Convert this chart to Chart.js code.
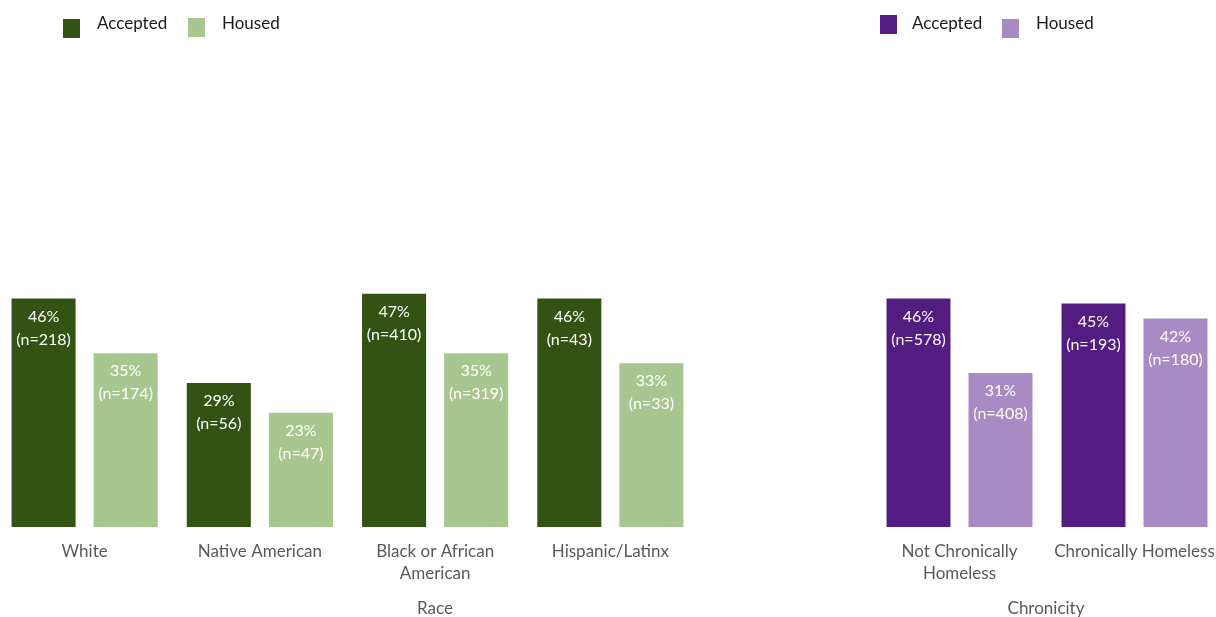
<!DOCTYPE html>
<html>
<head>
<meta charset="utf-8">
<script src="https://cdn.jsdelivr.net/npm/chart.js@4"></script>
<style>
  html, body { margin: 0; padding: 0; background: #fff; }
  body { width: 1216px; height: 617px; position: relative; overflow: hidden; font-family: Lato, sans-serif; }
  .panel { position: absolute; top: 0; height: 617px; }
  .legend { position: absolute; top: 0; height: 45px; font-size: 17px; color: #1a1a1a; }
  .legend span.box { position: absolute; width: 17px; height: 19px; }
  .legend span.txt { position: absolute; top: 12px; }
  .axis-title { position: absolute; top: 597px; font-size: 17px; color: #595959; transform: translateX(-50%); white-space: nowrap; }
</style>
</head>
<body>

<div class="panel" style="left:-3px;width:701px;"><canvas id="raceChart"></canvas></div>
<div class="panel" style="left:872px;width:350px;"><canvas id="chronChart"></canvas></div>

<div class="legend" style="left:0;width:320px;">
  <span class="box" style="left:63px;top:19px;background:#325314;"></span>
  <span class="txt" style="left:97px;">Accepted</span>
  <span class="box" style="left:188px;top:18px;background:#a8c68f;"></span>
  <span class="txt" style="left:222px;">Housed</span>
</div>
<div class="legend" style="left:860px;width:300px;">
  <span class="box" style="left:20px;top:15px;background:#531c80;"></span>
  <span class="txt" style="left:52px;">Accepted</span>
  <span class="box" style="left:142px;top:19px;background:#a98bc3;"></span>
  <span class="txt" style="left:176px;">Housed</span>
</div>

<div class="axis-title" style="left:435px;">Race</div>
<div class="axis-title" style="left:1046px;">Chronicity</div>

<script>
// Race breakdown
const raceLabels = ['White', 'Native American', ['Black or African', 'American'], 'Hispanic/Latinx'];
const raceAcceptedPct = [46, 29, 47, 46];
const raceAcceptedN = [218, 56, 410, 43];
const raceHousedPct = [35, 23, 35, 33];
const raceHousedN = [174, 47, 319, 33];

// Chronicity breakdown
const chronLabels = [['Not Chronically', 'Homeless'], 'Chronically Homeless'];
const chronAcceptedPct = [46, 45];
const chronAcceptedN = [578, 193];
const chronHousedPct = [31, 42];
const chronHousedN = [408, 180];

// writes "46%" / "(n=218)" inside the top of each bar
const barLabels = {
    id: 'barLabels',
    afterDatasetsDraw(chart) {
        const ctx = chart.ctx;
        ctx.save();
        ctx.fillStyle = '#ffffff';
        ctx.font = '16px Lato, sans-serif';
        ctx.textAlign = 'center';
        ctx.textBaseline = 'middle';
        chart.data.datasets.forEach(function(ds, di) {
            chart.getDatasetMeta(di).data.forEach(function(bar, i) {
                ctx.fillText(ds.data[i] + '%', bar.x, bar.y + 18);
                ctx.fillText('(n=' + ds.counts[i] + ')', bar.x, bar.y + 41);
            });
        });
        ctx.restore();
    }
};

function makeChart(id, labels, accPct, accN, houPct, houN, dark, light) {
    return new Chart(document.getElementById(id), {
        type: 'bar',
        data: {
            labels: labels,
            datasets: [
                { label: 'Accepted', data: accPct, counts: accN, backgroundColor: dark },
                { label: 'Housed', data: houPct, counts: houN, backgroundColor: light }
            ]
        },
        options: {
            responsive: true,
            maintainAspectRatio: false,
            animation: false,
            categoryPercentage: 0.937,
            barPercentage: 0.78,
            layout: { padding: { top: 30.5, left: 0, right: 0, bottom: 0 } },
            plugins: {
                legend: { display: false },
                tooltip: { enabled: false }
            },
            scales: {
                y: {
                    display: false,
                    min: 0,
                    max: 100
                },
                x: {
                    grid: { display: false, drawTicks: false },
                    border: { display: false },
                    ticks: {
                        color: '#595959',
                        padding: 13,
                        maxRotation: 0,
                        autoSkip: false,
                        font: { family: 'Lato, sans-serif', size: 17, lineHeight: 1.3 }
                    },
                    afterFit: function(scale) {
                        // fixed band for the labels, and no side padding so categories span the full width
                        scale.height = 90;
                        scale.paddingLeft = 0;
                        scale.paddingRight = 0;
                    }
                }
            }
        },
        plugins: [barLabels]
    });
}

makeChart('raceChart', raceLabels, raceAcceptedPct, raceAcceptedN, raceHousedPct, raceHousedN, '#325314', '#a8c68f');
makeChart('chronChart', chronLabels, chronAcceptedPct, chronAcceptedN, chronHousedPct, chronHousedN, '#531c80', '#a98bc3');
</script>
</body>
</html>
